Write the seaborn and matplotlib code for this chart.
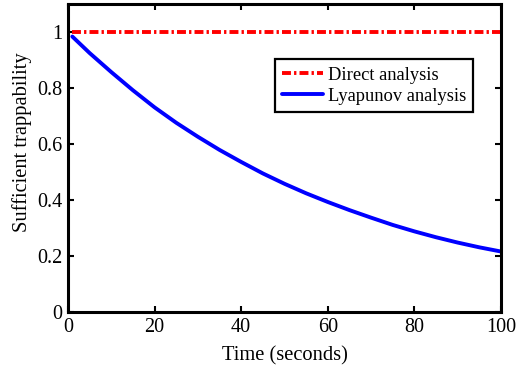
import numpy as np
import pandas as pd
import matplotlib
matplotlib.use("Agg")
import matplotlib.pyplot as plt
import seaborn as sns

# Data
time_s = [1, 5, 10, 15, 20, 25, 30, 35, 40, 45, 50, 55, 60, 65, 70, 75, 80, 85, 90, 95, 100]
lyapunov = [0.984, 0.925, 0.857, 0.792, 0.731, 0.676, 0.626, 0.579, 0.536, 0.495,
            0.458, 0.424, 0.393, 0.364, 0.337, 0.311, 0.288, 0.267, 0.248, 0.231, 0.216]
direct = [1.0] * len(time_s)
x_ticks = [0, 20, 40, 60, 80, 100]
y_ticks = [0, 0.2, 0.4, 0.6, 0.8, 1]
y_tick_labels = ["0", "0.2", "0.4", "0.6", "0.8", "1"]

sns.set_theme(style="white")
plt.rcParams["font.family"] = ["Liberation Serif", "DejaVu Serif"]
plt.rcParams["mathtext.fontset"] = "stix"
plt.rcParams["text.color"] = "black"
plt.rcParams["axes.labelcolor"] = "black"

df_direct = pd.DataFrame({"t": time_s, "v": direct})
df_lyap = pd.DataFrame({"t": time_s, "v": lyapunov})

fig = plt.figure(figsize=(5.17, 3.69), dpi=100)
ax = fig.add_axes([0.1315, 0.1545, 0.8375, 0.8345])

sns.lineplot(data=df_direct, x="t", y="v", ax=ax, color="#ff0000", linewidth=2.8,
             linestyle=(0, (2.3, 0.8, 0.6, 0.8)), label="Direct analysis")
sns.lineplot(data=df_lyap, x="t", y="v", ax=ax, color="#0000ff", linewidth=2.8,
             label="Lyapunov analysis")

ax.set_xlim(0, 100)
ax.set_ylim(0, 1.1)
ax.set_xticks(x_ticks)
ax.set_xticklabels([str(v) for v in x_ticks])
ax.set_yticks(y_ticks)
ax.set_yticklabels(y_tick_labels)
ax.set_xlabel("Time (seconds)", fontsize=14.8, labelpad=7, color="black")
ax.set_ylabel("Sufficient trappability", fontsize=14.8, color="black")
ax.yaxis.set_label_coords(-0.082, 0.55)

for s in ax.spines.values():
    s.set_visible(True)
    s.set_color("black")
    s.set_linewidth(2.2)
ax.tick_params(axis="both", which="both", direction="in", length=4, width=1.5,
               top=True, right=True, bottom=True, left=True, labelsize=14.5,
               colors="black", labelcolor="black", pad=4)
ax.grid(False)

leg = ax.legend(loc="upper left", bbox_to_anchor=(0.478, 0.821), fontsize=13.3,
                frameon=True, fancybox=False, framealpha=1, edgecolor="black",
                handlelength=2.2, handletextpad=0.25, borderpad=0.4,
                labelspacing=0.22, borderaxespad=0)
leg.get_frame().set_linewidth(1.6)
for t in leg.get_texts():
    t.set_color("black")

fig.savefig("out.png", dpi=100)
